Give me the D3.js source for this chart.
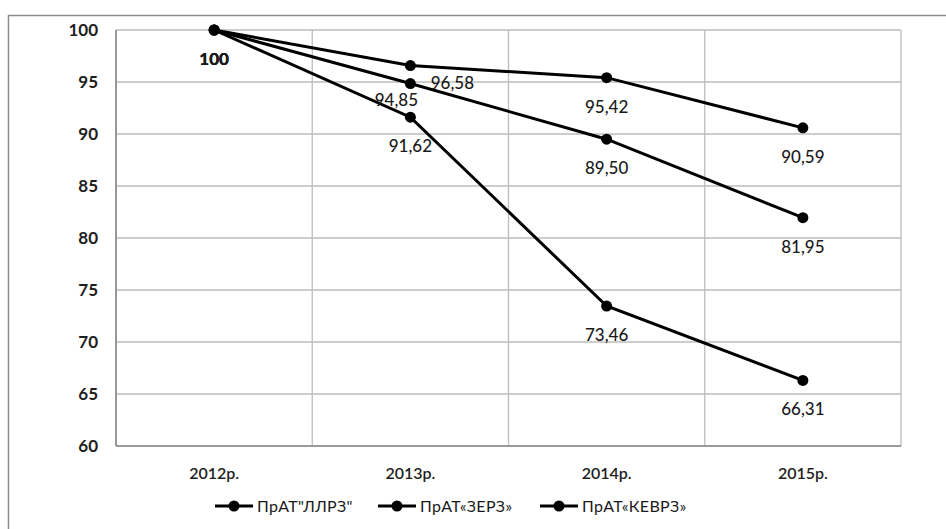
<!DOCTYPE html>
<html><head><meta charset="utf-8">
<script src="https://cdn.jsdelivr.net/npm/d3@7"></script>
<style>body{margin:0;background:#fff;} text{font-family:Lato,"Open Sans",sans-serif;}</style>
</head><body>
<svg id="c" width="946" height="529"></svg>
<script>
const categories = ["2012р.", "2013р.", "2014р.", "2015р."];
const seriesNames = ["ПрАТ\"ЛЛРЗ\"", "ПрАТ«ЗЕРЗ»", "ПрАТ«КЕВРЗ»"];
const llrz = [100, 91.62, 73.46, 66.31];
const zerz = [100, 94.85, 89.50, 81.95];
const kevrz = [100, 96.58, 95.42, 90.59];
const yTicks = [60, 65, 70, 75, 80, 85, 90, 95, 100];
const seriesValues = [llrz, zerz, kevrz];

const svg = d3.select("#c");
const L = 116, R = 901, T = 30, B = 446;
const x = d3.scaleBand().domain(categories).range([L, R]);
const y = d3.scaleLinear().domain([60, 100]).range([B, T]);

// outer frame (top and left only visible)
svg.append("line").attr("x1", 8).attr("x2", 946).attr("y1", 15.5).attr("y2", 15.5).attr("stroke", "#8c8c8c").attr("stroke-width", 1.5);
svg.append("line").attr("x1", 8.5).attr("x2", 8.5).attr("y1", 15).attr("y2", 529).attr("stroke", "#8c8c8c").attr("stroke-width", 1.5);

// horizontal grid
svg.append("g").selectAll("line").data(yTicks).join("line")
  .attr("x1", L).attr("x2", R).attr("y1", d => y(d)).attr("y2", d => y(d))
  .attr("stroke", "#bdbdbd").attr("stroke-width", 1.3);
// vertical grid
const vg = categories.map(c => x(c) + x.bandwidth()).concat([L]);
svg.append("g").selectAll("line").data(vg).join("line")
  .attr("x1", d => d).attr("x2", d => d).attr("y1", T).attr("y2", B)
  .attr("stroke", "#bdbdbd").attr("stroke-width", 1.3);
// axis lines
svg.append("line").attr("x1", L).attr("x2", L).attr("y1", T).attr("y2", B).attr("stroke", "#8a8a8a").attr("stroke-width", 1.6);
svg.append("line").attr("x1", L).attr("x2", R).attr("y1", B).attr("y2", B).attr("stroke", "#8a8a8a").attr("stroke-width", 1.6);

// y tick labels
svg.append("g").selectAll("text").data(yTicks).join("text")
  .attr("x", 98).attr("y", d => y(d)).attr("dy", "0.36em").attr("text-anchor", "end")
  .attr("font-size", 17).attr("font-weight", 700).attr("fill", "#1e1e1e").text(d => d);
// x labels
svg.append("g").selectAll("text").data(categories).join("text")
  .attr("x", d => x(d) + x.bandwidth() / 2).attr("y", 473).attr("dy", "0.36em").attr("text-anchor", "middle")
  .attr("font-size", 16).attr("font-weight", 600).attr("fill", "#1e1e1e").text(d => d);

const cx = c => x(c) + x.bandwidth() / 2;
const line = d3.line().x((d, i) => cx(categories[i])).y(d => y(d));
seriesValues.forEach(vals => {
  svg.append("path").datum(vals).attr("d", line).attr("fill", "none").attr("stroke", "#000").attr("stroke-width", 3);
});
seriesValues.forEach(vals => {
  svg.append("g").selectAll("circle").data(vals).join("circle")
    .attr("cx", (d, i) => cx(categories[i])).attr("cy", d => y(d)).attr("r", 5.5).attr("fill", "#000");
});

// data labels
const fmt = v => v === 100 ? "100" : d3.format(".2f")(v).replace(".", ",");
const labelShift = (s, i) => {
  if (i === 1 && s === 2) return [42, 17.5];
  if (i === 1 && s === 1) return [-14, 16.5];
  return [0, 29];
};
seriesValues.forEach((vals, s) => {
  svg.append("g").selectAll("text").data(vals).join("text")
    .attr("x", (d, i) => cx(categories[i]) + labelShift(s, i)[0])
    .attr("y", (d, i) => y(d) + labelShift(s, i)[1])
    .attr("dy", "0.36em").attr("text-anchor", "middle")
    .attr("font-size", 17).attr("font-weight", (d, i) => i === 0 ? 700 : 500).attr("fill", "#1a1a1a")
    .text(d => fmt(d));
});

// legend
const legX = [215, 378, 540];
const lg = svg.append("g").selectAll("g").data(seriesNames).join("g")
  .attr("transform", (d, i) => `translate(${legX[i]},506)`);
lg.append("line").attr("x1", 0).attr("x2", 38).attr("stroke", "#000").attr("stroke-width", 3);
lg.append("circle").attr("cx", 19).attr("r", 5.5).attr("fill", "#000");
lg.append("text").attr("x", 42).attr("dy", "0.36em").attr("font-size", 16).attr("letter-spacing", 0.3).attr("fill", "#1a1a1a").text(d => d);
</script>
</body></html>
